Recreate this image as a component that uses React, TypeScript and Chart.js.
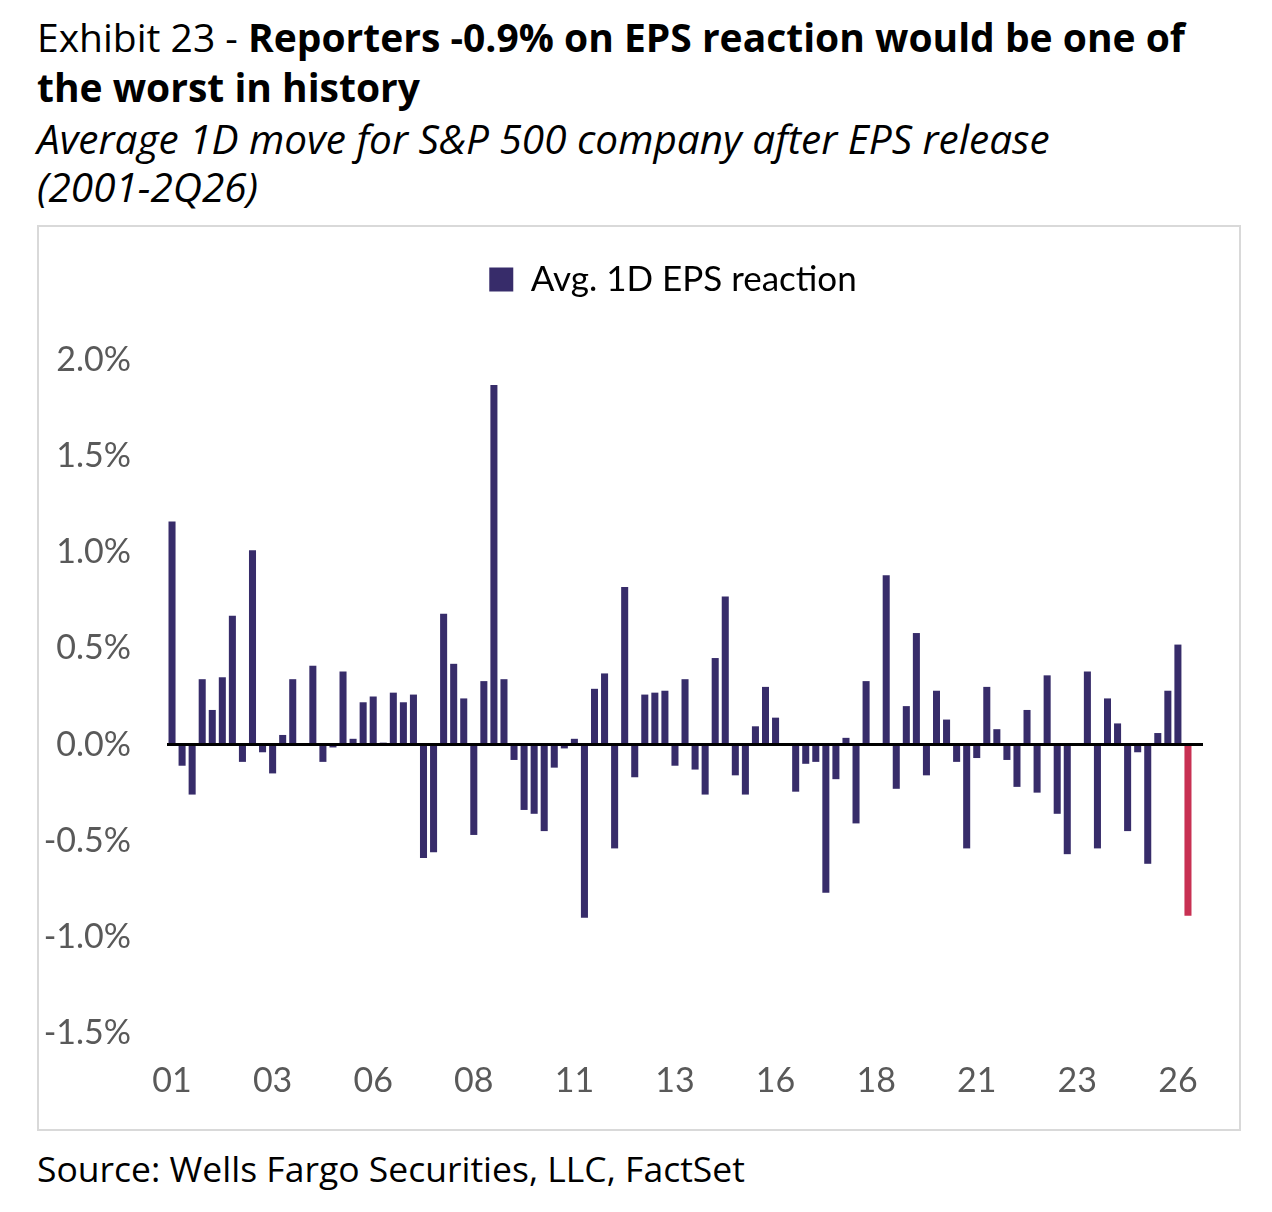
import { useEffect, useRef } from 'react';
import { Chart, registerables } from 'chart.js';

Chart.register(...registerables);

// quarterly average 1-day price reaction (%), 1Q01 .. 2Q26
const startYear = 2001;
const epsReaction = [
  1.16, -0.11, -0.26, 0.34, // 2001
  0.18, 0.35, 0.67, -0.09, // 2002
  1.01, -0.04, -0.15, 0.05, // 2003
  0.34, 0.0, 0.41, -0.09, // 2004
  -0.015, 0.38, 0.03, 0.22, // 2005
  0.25, 0.01, 0.27, 0.22, // 2006
  0.26, -0.59, -0.56, 0.68, // 2007
  0.42, 0.24, -0.47, 0.33, // 2008
  1.87, 0.34, -0.08, -0.34, // 2009
  -0.36, -0.45, -0.12, -0.02, // 2010
  0.03, -0.9, 0.29, 0.37, // 2011
  -0.54, 0.82, -0.17, 0.26, // 2012
  0.27, 0.28, -0.11, 0.34, // 2013
  -0.13, -0.26, 0.45, 0.77, // 2014
  -0.16, -0.26, 0.095, 0.3, // 2015
  0.14, 0.0, -0.245, -0.1, // 2016
  -0.09, -0.77, -0.18, 0.035, // 2017
  -0.41, 0.33, 0.005, 0.88, // 2018
  -0.23, 0.2, 0.58, -0.16, // 2019
  0.28, 0.13, -0.09, -0.54, // 2020
  -0.07, 0.3, 0.08, -0.08, // 2021
  -0.22, 0.18, -0.25, 0.36, // 2022
  -0.36, -0.57, 0.0, 0.38, // 2023
  -0.54, 0.24, 0.11, -0.45, // 2024
  -0.04, -0.62, 0.06, 0.28, // 2025
  0.52, -0.89, // 2026
];
const yearTicks = ['01', '03', '06', '08', '11', '13', '16', '18', '21', '23', '26'];
const seriesName = 'Avg. 1D EPS reaction';

const quarterLabels = epsReaction.map(
  (_, i) => `${(i % 4) + 1}Q${String((startYear + Math.floor(i / 4)) % 100).padStart(2, '0')}`
);

const PURPLE = '#372C6A';
const RED = '#C83153';
const AXIS_FONT = 'Lato, "Open Sans", sans-serif';
const TEXT_FONT = '"Open Sans", Lato, sans-serif';

// more room under the legend, and centre the legend over the plot
const legendTweaks = {
  id: 'legendTweaks',
  beforeInit(chart: any) {
    const fit = chart.legend.fit;
    chart.legend.fit = function () {
      fit.bind(chart.legend)();
      this.height += 53;
    };
  },
  afterLayout(chart: any) {
    const lg = chart.legend;
    const area = chart.chartArea;
    const shift = (area.left + area.right) / 2 - (lg.left + lg.right) / 2 - 7;
    lg.left += shift;
    lg.right += shift;
  },
};

// black zero line running a little past the last bar
const zeroLine = {
  id: 'zeroLine',
  afterDatasetsDraw(chart: any) {
    const { ctx, chartArea, scales } = chart;
    const y = scales.y.getPixelForValue(0);
    ctx.save();
    ctx.strokeStyle = '#000';
    ctx.lineWidth = 3;
    ctx.beginPath();
    ctx.moveTo(chartArea.left, y);
    ctx.lineTo(chartArea.right + 10, y);
    ctx.stroke();
    ctx.restore();
  },
};

function EpsChart() {
  const canvasRef: any = useRef(null);

  useEffect(() => {
    if (!canvasRef.current) return;
    const last = epsReaction.length - 1;
    const chart = new Chart(canvasRef.current.getContext('2d'), {
      type: 'bar',
      data: {
        labels: quarterLabels,
        datasets: [
          {
            label: seriesName,
            data: epsReaction,
            backgroundColor: (ctx: any) => (ctx.dataIndex === last ? RED : PURPLE),
            barPercentage: 0.7,
            categoryPercentage: 1,
          },
        ],
      },
      options: {
        animation: false,
        responsive: true,
        maintainAspectRatio: false,
        layout: { padding: { top: 25, right: 46, bottom: 0, left: 0 } },
        plugins: {
          legend: {
            display: true,
            position: 'top',
            labels: {
              boxWidth: 24,
              boxHeight: 24,
              padding: 10,
              color: '#000',
              font: { family: AXIS_FONT, size: 35 },
            },
          },
          tooltip: { enabled: false },
        },
        scales: {
          x: {
            grid: { display: false, drawTicks: false },
            border: { display: false },
            ticks: {
              autoSkip: false,
              maxRotation: 0,
              minRotation: 0,
              padding: 31,
              color: '#595959',
              font: { family: AXIS_FONT, size: 34, lineHeight: 1 },
              callback: (_v: any, i: number) => (i % 10 === 0 ? yearTicks[i / 10] : ''),
            },
          },
          y: {
            min: -1.5,
            max: 2.0,
            afterFit: (scale: any) => {
              scale.width = 128;
            },
            border: { display: false },
            grid: { display: false, drawTicks: false },
            ticks: {
              stepSize: 0.5,
              padding: 36,
              color: '#595959',
              font: { family: AXIS_FONT, size: 34 },
              callback: (v: any) => `${Number(v).toFixed(1)}%`,
            },
          },
        },
      },
      plugins: [legendTweaks, zeroLine],
    } as any);
    return () => {
      chart.destroy();
    };
  }, []);

  return <canvas ref={canvasRef} />;
}

export default function App() {
  return (
    <div
      style={{
        position: 'absolute',
        left: 0,
        top: 0,
        width: 1272,
        height: 1212,
        background: '#fff',
        fontFamily: TEXT_FONT,
        color: '#000',
      }}
    >
      <div style={{ position: 'absolute', left: 37, top: 12, fontSize: 39, lineHeight: '50px', whiteSpace: 'nowrap' }}>
        Exhibit 23 - <b>Reporters -0.9% on EPS reaction would be one of</b>
        <br />
        <b>the worst in history</b>
      </div>
      <div
        style={{
          position: 'absolute',
          left: 37,
          top: 115,
          fontSize: 40.5,
          lineHeight: '48px',
          fontStyle: 'italic',
          whiteSpace: 'nowrap',
        }}
      >
        Average 1D move for S&amp;P 500 company after EPS release
        <br />
        (2001-2Q26)
      </div>
      <div
        style={{
          position: 'absolute',
          left: 37,
          top: 225,
          width: 1204,
          height: 906,
          border: '2px solid #d9d9d9',
          boxSizing: 'border-box',
        }}
      >
        <div style={{ position: 'relative', width: '100%', height: '100%' }}>
          <EpsChart />
        </div>
      </div>
      <div style={{ position: 'absolute', left: 37, top: 1145, fontSize: 35.5, lineHeight: '46px', whiteSpace: 'nowrap' }}>
        Source: Wells Fargo Securities, LLC, FactSet
      </div>
    </div>
  );
}
